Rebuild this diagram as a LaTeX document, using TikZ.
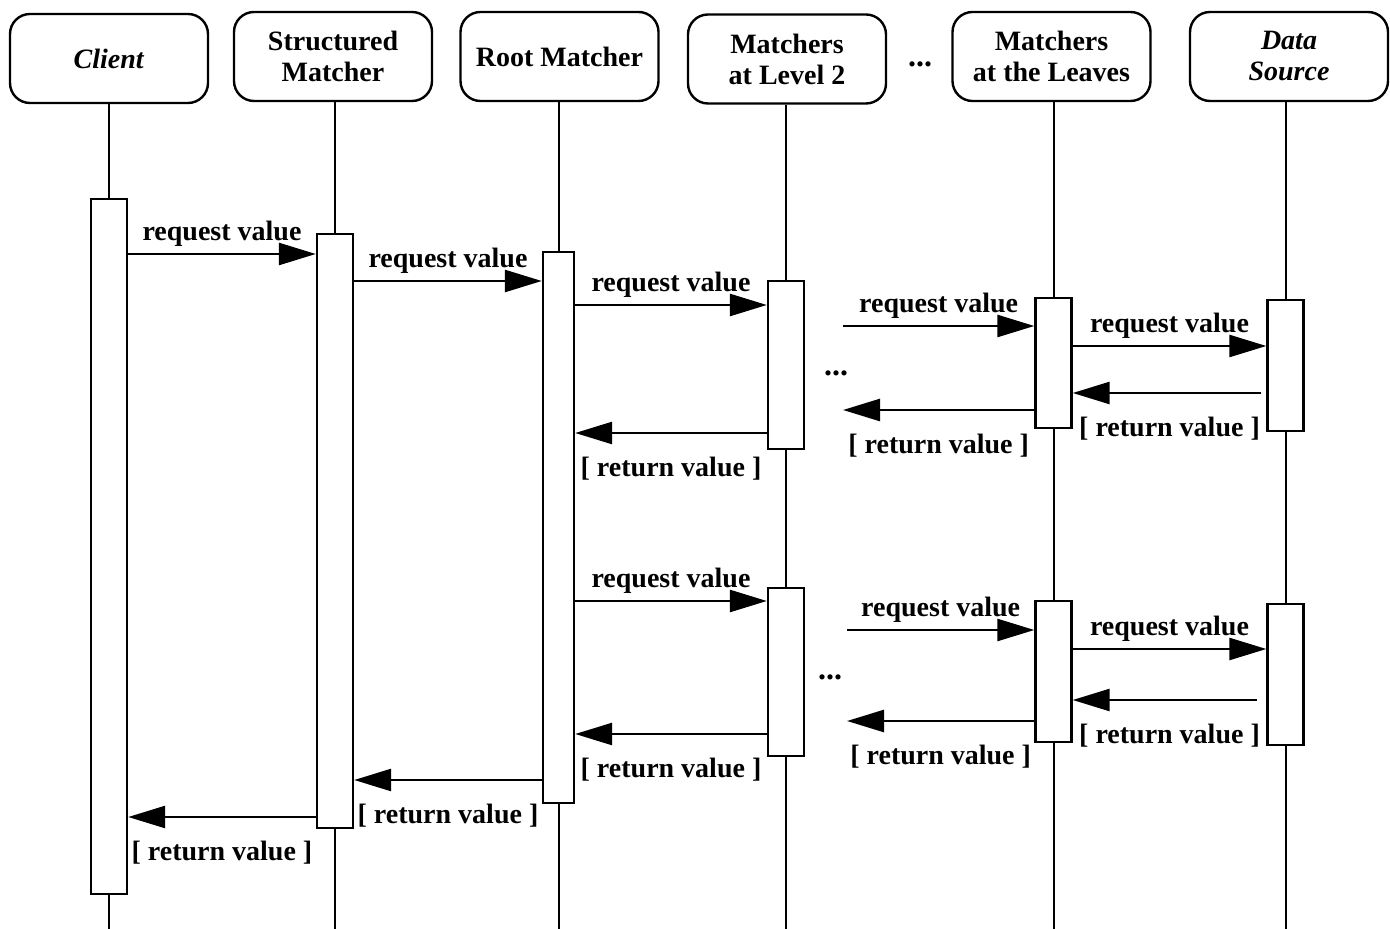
\documentclass[tikz,border=0pt]{standalone}
\usepackage{fontspec}
\setmainfont{Liberation Serif}
\usetikzlibrary{arrows.meta}
\tikzstyle{head}=[draw, line width=1.2pt, rounded corners=10pt, minimum width=99pt, minimum height=44.5pt, align=center, font=\bfseries\fontsize{14}{15.5}\selectfont]
\tikzstyle{bar}=[draw, fill=white, line width=1.2pt, minimum width=18pt, inner sep=0pt]
\tikzset{life/.style={line width=1pt}}
\tikzset{msg/.style={-{Triangle[length=18.5pt,width=11pt]}, line width=1.3pt}}
\tikzset{lbl/.style={font=\bfseries\fontsize{14}{16}\selectfont}}
\tikzset{dots/.style={font=\bfseries\fontsize{16}{18}\selectfont}}

\begin{document}
\begin{tikzpicture}[x=0.5pt,y=-0.5pt]
  \useasboundingbox (0,0) rectangle (1390,929);
  %% Participants
  \draw (109,58.5) node[head] (H1) {\textit{Client}};
  \draw (333,56.5) node[head] (H2) {Structured\\Matcher};
  \draw (559.5,56.5) node[head] (H3) {Root Matcher};
  \draw (787,59) node[head] (H4) {Matchers\\at Level 2};
  \draw (1051.5,56.5) node[head] (H5) {Matchers\\at the Leaves};
  \draw (1289,56.5) node[head] (H6) {\textit{Data}\\\textit{Source}};
  \draw (920,64) node[dots] (D0) {...};

  %% Activations
  \draw (109,546.5) node[bar,minimum height=347.5pt] (B1) {};
  \draw (335,531) node[bar,minimum height=297pt] (B2) {};
  \draw (558.5,527.5) node[bar,minimum height=275.5pt,minimum width=15.5pt] (B3) {};
  \draw (786,365) node[bar,minimum height=84pt] (B4) {};
  \draw (1053.5,363) node[bar,minimum height=65pt] (B5) {};
  \draw (1285.5,365.5) node[bar,minimum height=65.5pt] (B6) {};
  \draw (786,672) node[bar,minimum height=84pt] (B7) {};
  \draw (1053.5,671.5) node[bar,minimum height=70.5pt] (B8) {};
  \draw (1285.5,674.5) node[bar,minimum height=70.5pt] (B9) {};

  %% Lifelines
  \draw[life] (H1.south -| B1) -- (B1.north);
  \draw[life] (B1.south) -- (B1 |- 0,929);
  \draw[life] (H2.south -| B2) -- (B2.north);
  \draw[life] (B2.south) -- (B2 |- 0,929);
  \draw[life] (H3.south -| B3) -- (B3.north);
  \draw[life] (B3.south) -- (B3 |- 0,929);
  \draw[life] (H4.south -| B4) -- (B4.north);
  \draw[life] (B4.south) -- (B7.north);
  \draw[life] (B7.south) -- (B7 |- 0,929);
  \draw[life] (H5.south -| B5) -- (B5.north);
  \draw[life] (B5.south) -- (B8.north);
  \draw[life] (B8.south) -- (B8 |- 0,929);
  \draw[life] (H6.south -| B6) -- (B6.north);
  \draw[life] (B6.south) -- (B9.north);
  \draw[life] (B9.south) -- (B9 |- 0,929);

  %% Open ends
  \coordinate (C1) at (843,326);
  \coordinate (C2) at (843,410);
  \coordinate (C3) at (847,630);
  \coordinate (C4) at (847,721);

  %% First request
  \draw[msg] (B1.east |- 0,254) -- (B2.west |- 0,254) node[midway,above,lbl] {request value};
  \draw[msg] (B2.east |- 0,281) -- (B3.west |- 0,281) node[midway,above,lbl] {request value};
  \draw[msg] (B3.east |- 0,305) -- (B4.west |- 0,305) node[midway,above,lbl] {request value};
  \draw[msg] (C1) -- (B5.west |- C1) node[midway,above,lbl] {request value};
  \draw[msg] (B5.east |- 0,346) -- (B6.west |- 0,346) node[midway,above,lbl] {request value};
  \draw (836,373) node[dots] (D1) {...};
  \draw[msg,shorten <=2.5pt] (B6.west |- 0,393) -- (B5.east |- 0,393) node[midway,below=8pt,lbl] {[ return value ]};
  \draw[msg] (B5.west |- C2) -- (C2) node[midway,below=8pt,lbl] {[ return value ]};
  \draw[msg] (B4.west |- 0,433) -- (B3.east |- 0,433) node[midway,below=8pt,lbl] {[ return value ]};

  %% Second request
  \draw[msg] (B3.east |- 0,601) -- (B7.west |- 0,601) node[midway,above,lbl] {request value};
  \draw[msg] (C3) -- (B8.west |- C3) node[midway,above,lbl] {request value};
  \draw[msg] (B8.east |- 0,649) -- (B9.west |- 0,649) node[midway,above,lbl] {request value};
  \draw (830,677) node[dots] (D2) {...};
  \draw[msg,shorten <=4.5pt] (B9.west |- 0,700) -- (B8.east |- 0,700) node[midway,below=8pt,lbl] {[ return value ]};
  \draw[msg] (B8.west |- C4) -- (C4) node[midway,below=8pt,lbl] {[ return value ]};
  \draw[msg] (B7.west |- 0,734) -- (B3.east |- 0,734) node[midway,below=8pt,lbl] {[ return value ]};

  %% Back to the client
  \draw[msg] (B3.west |- 0,780) -- (B2.east |- 0,780) node[midway,below=8pt,lbl] {[ return value ]};
  \draw[msg] (B2.west |- 0,817) -- (B1.east |- 0,817) node[midway,below=8pt,lbl] {[ return value ]};
\end{tikzpicture}
\end{document}
